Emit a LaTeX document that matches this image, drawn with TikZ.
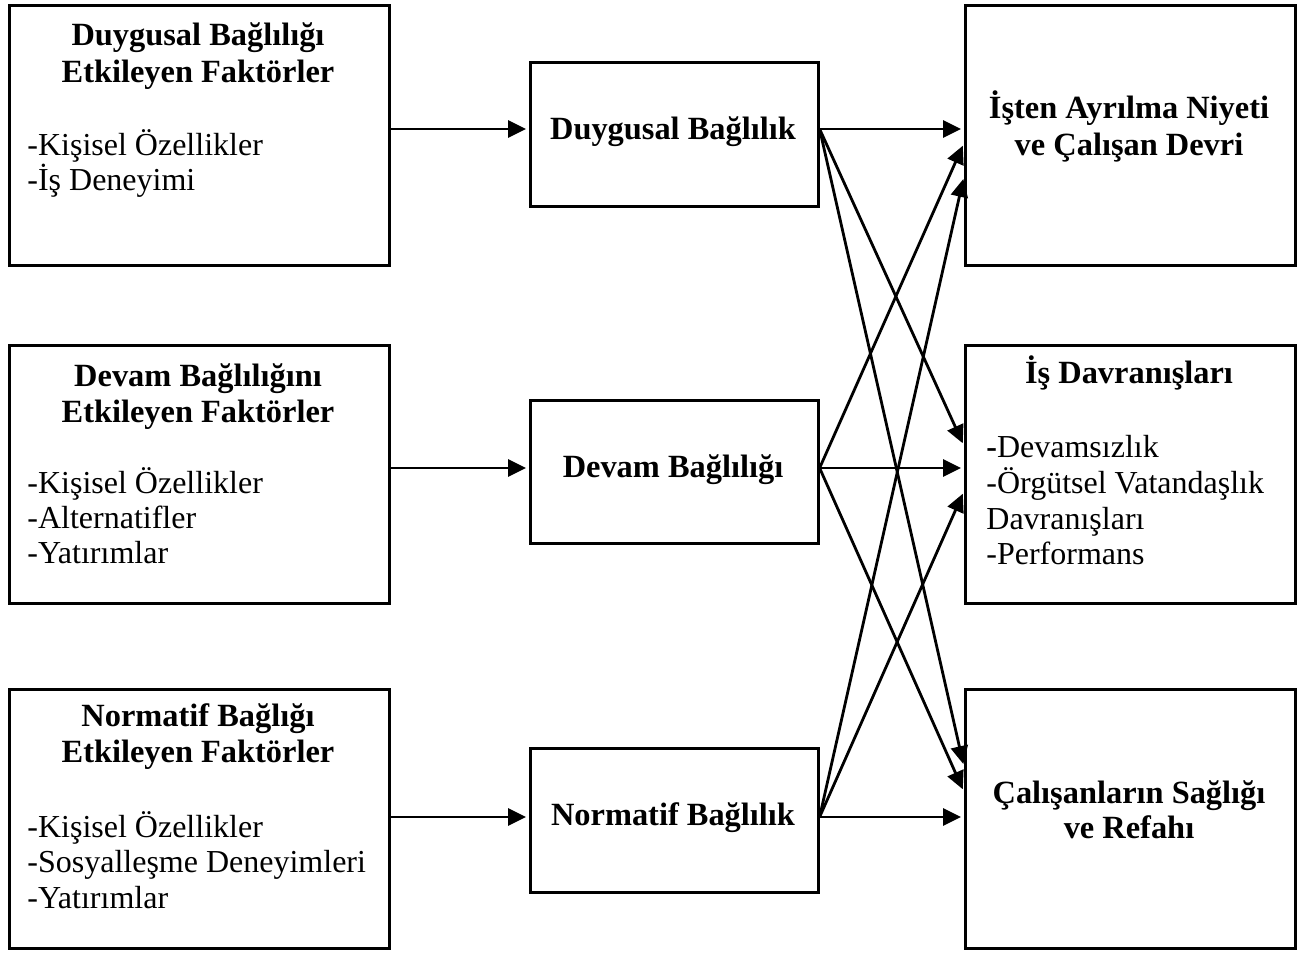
\documentclass[tikz,border=0pt]{standalone}
\usepackage{fontspec}
\setmainfont{Liberation Serif}
\usetikzlibrary{arrows.meta}

\tikzset{
  box/.style={draw, line width=1.3pt, inner sep=0pt, anchor=north west, fill=white},
  txt/.style={inner sep=0pt, font=\fontsize{16}{18.5}\selectfont},
  head/.style={txt, anchor=base, font=\fontsize{16.2}{18.5}\selectfont\bfseries},
  item/.style={txt, anchor=base west},
  arr/.style={line width=1.4pt, -{Triangle[length=9pt,width=8.5pt]}, shorten >=1.5pt}
}

\begin{document}
\begin{tikzpicture}[x=0.5pt, y=-0.5pt]
\useasboundingbox (0,0) rectangle (1304,953);

% left column: factor boxes
\node[box, minimum width=190pt, minimum height=130pt] (l1) at (8,4) {};
\node[box, minimum width=190pt, minimum height=129pt] (l2) at (8,344) {};
\node[box, minimum width=190pt, minimum height=129.5pt] (l3) at (8,688) {};

% middle column: commitment types
\node[box, minimum width=144pt, minimum height=72pt] (m1) at (529,61) {};
\node[box, minimum width=144pt, minimum height=71.5pt] (m2) at (529,399) {};
\node[box, minimum width=144pt, minimum height=72pt] (m3) at (529,747) {};

% right column: outcomes
\node[box, minimum width=165pt, minimum height=130pt] (r1) at (964,4) {};
\node[box, minimum width=165pt, minimum height=129pt] (r2) at (964,344) {};
\node[box, minimum width=165pt, minimum height=129.5pt] (r3) at (964,688) {};

% texts of the left boxes
\node[head] (l1a) at (198,45) {Duygusal Bağlılığı};
\node[head] (l1b) at (198,82) {Etkileyen Faktörler};
\node[item] (l1c) at (27,155) {-Kişisel Özellikler};
\node[item] (l1d) at (27,190) {-İş Deneyimi};

\node[head] (l2a) at (198,386) {Devam Bağlılığını};
\node[head] (l2b) at (198,422) {Etkileyen Faktörler};
\node[item] (l2c) at (27,493) {-Kişisel Özellikler};
\node[item] (l2d) at (27,528) {-Alternatifler};
\node[item] (l2e) at (27,563) {-Yatırımlar};

\node[head] (l3a) at (198,726) {Normatif Bağlığı};
\node[head] (l3b) at (198,762) {Etkileyen Faktörler};
\node[item] (l3c) at (27,837) {-Kişisel Özellikler};
\node[item] (l3d) at (27,872) {-Sosyalleşme Deneyimleri};
\node[item] (l3e) at (27,908) {-Yatırımlar};

% texts of the middle boxes
\node[head] (m1t) at (673,139) {Duygusal Bağlılık};
\node[head] (m2t) at (673,477) {Devam Bağlılığı};
\node[head] (m3t) at (673,825) {Normatif Bağlılık};

% texts of the right boxes
\node[head] (r1a) at (1129,118) {İşten Ayrılma Niyeti};
\node[head] (r1b) at (1129,155) {ve Çalışan Devri};

\node[head] (r2a) at (1129,383) {İş Davranışları};
\node[item] (r2b) at (986,457) {\textbf{-}Devamsızlık};
\node[item] (r2c) at (986,493) {-Örgütsel Vatandaşlık};
\node[item] (r2d) at (986,529) {Davranışları};
\node[item] (r2e) at (986,564) {-Performans};

\node[head] (r3a) at (1129,803) {Çalışanların Sağlığı};
\node[head] (r3b) at (1129,838) {ve Refahı};

% heights at which the connectors meet the boxes
\coordinate (rowA) at (0,129);
\coordinate (rowB) at (0,468);
\coordinate (rowC) at (0,817);
\coordinate (t12) at (0,143);
\coordinate (t13) at (0,176);
\coordinate (t21) at (0,446);
\coordinate (t23) at (0,491);
\coordinate (t31) at (0,767);
\coordinate (t32) at (0,792);

% factors -> commitment
\draw[arr] (l1.east |- rowA) -- (m1.west |- rowA);
\draw[arr] (l2.east |- rowB) -- (m2.west |- rowB);
\draw[arr] (l3.east |- rowC) -- (m3.west |- rowC);

% commitment -> outcomes
\draw[arr] (m1.east |- rowA) -- (r1.west |- rowA);
\draw[arr] (m1.east |- rowA) -- (r2.west |- t21);
\draw[arr] (m1.east |- rowA) -- (r3.west |- t31);

\draw[arr] (m2.east |- rowB) -- (r1.west |- t12);
\draw[arr] (m2.east |- rowB) -- (r2.west |- rowB);
\draw[arr] (m2.east |- rowB) -- (r3.west |- t32);

\draw[arr] (m3.east |- rowC) -- (r1.west |- t13);
\draw[arr] (m3.east |- rowC) -- (r2.west |- t23);
\draw[arr] (m3.east |- rowC) -- (r3.west |- rowC);
\end{tikzpicture}
\end{document}
